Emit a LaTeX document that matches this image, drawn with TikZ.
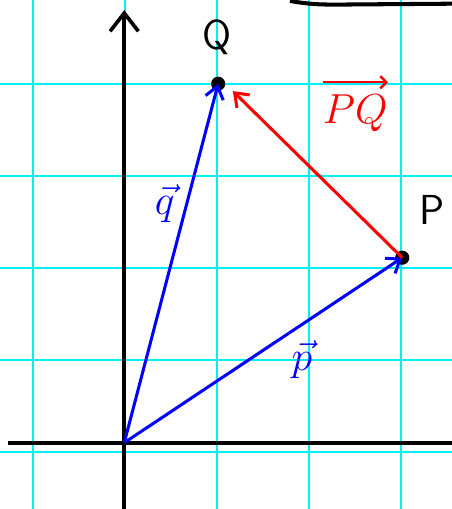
\documentclass[tikz,border=0pt]{standalone}
\usetikzlibrary{arrows.meta, positioning, calc}
\definecolor{cuadro}{RGB}{0, 240, 250}

\begin{document}
\begin{tikzpicture}[
        x=1.6cm, y=1.6cm,
        rejilla/.style={cuadro, line width=1pt},
        eje/.style={black, line width=1.8pt},
        vector/.style={
            line width=1.5pt,
            -{Straight Barb[length=6pt, width=9pt]}
        },
        punto/.style={
            circle,
            fill=black,
            inner sep=0pt,
            minimum size=7pt
        },
        etiqueta/.style={font=\huge\sffamily}
    ]
        \useasboundingbox (-1.36,-0.62) rectangle (3.55,4.91);
        \fill[white] (-1.36,-0.62) rectangle (3.55,4.91);

        % cuadricula
        \foreach \k in {-1,...,3} {
            \draw[rejilla] (\k,-0.62) -- (\k,4.91);
        }
        \foreach \k in {0,...,4} {
            \draw[rejilla] (-1.36,\k) -- (3.55,\k);
        }

        % ejes
        \coordinate (ejeabajo) at (-0.01,-0.62);
        \coordinate (ejearriba) at (-0.01,4.8);
        \coordinate (ejeizq) at (-1.27,0.1);
        \coordinate (ejeder) at (3.56,0.1);
        \draw[eje, -{Straight Barb[length=9pt, width=14pt]}] (ejeabajo) -- (ejearriba);
        \draw[eje] (ejeizq) -- (ejeder);

        % trazo arriba
        \draw[line width=2pt] (1.79,4.9) to[out=-10, in=180] (2.3,4.86) -- (3.56,4.87);

        % puntos
        \coordinate (O) at (-0.01,0.1);
        \node[punto] (P) at (3.01,2.11) {};
        \node[punto] (Q) at (1.01,4.0) {};
        \coordinate (R) at (1.17,3.92);

        % vectores
        \draw[vector, blue] (O) -- (Q.center);
        \draw[vector, blue] (O) -- (P.center);
        \draw[vector, red] (P.center) -- (R);

        % etiquetas
        \node[etiqueta] (etqQ) at (1.0,4.5) {Q};
        \node[etiqueta] (etqP) at (3.33,2.63) {P};
        \node[etiqueta, text=blue] (etqq) at (0.43,2.7) {$\vec{q}$};
        \node[etiqueta, text=blue] (etqp) at (1.92,1.0) {$\vec{p}$};
        \node[etiqueta, text=red, inner sep=1pt] (etqPQ) at (2.5,3.68) {$PQ$};
        \draw[red, line width=1.2pt, -{Straight Barb[length=3pt, width=6pt]}]
            ([xshift=1pt, yshift=5pt]etqPQ.north west) -- ([xshift=-1pt, yshift=5pt]etqPQ.north east);
    \end{tikzpicture}
\end{document}
